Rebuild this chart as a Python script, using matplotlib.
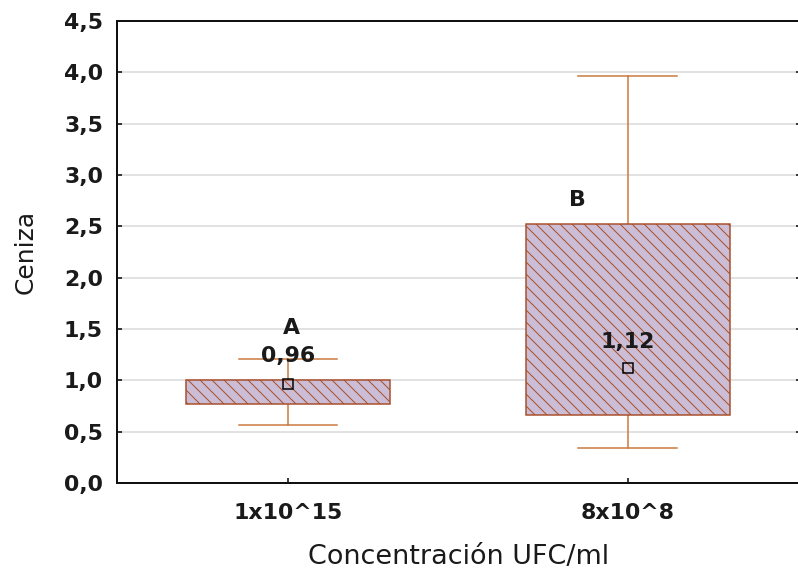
import matplotlib
matplotlib.use("Agg")
import matplotlib.pyplot as plt

categories = ["1x10^15", "8x10^8"]
q1 = [0.77, 0.664]
q3 = [1.0, 2.52]
whislo = [0.566, 0.34]
whishi = [1.21, 3.96]
means = [0.96, 1.12]
mean_labels = ["0,96", "1,12"]
group_letters = ["A", "B"]
yticks = [0.0, 0.5, 1.0, 1.5, 2.0, 2.5, 3.0, 3.5, 4.0, 4.5]
ytick_labels = ["0,0", "0,5", "1,0", "1,5", "2,0", "2,5", "3,0", "3,5", "4,0", "4,5"]

DPI = 72
fig = plt.figure(figsize=(798 / DPI, 586 / DPI), dpi=DPI)
ax = fig.add_axes([117 / 798, 1 - 483 / 586, 684 / 798, (483 - 21) / 586])

edge = "#a84e2a"
hatchc = "#d27040"
fill = "#cbbdd6"
whisk = "#c9783c"
plt.rcParams["hatch.linewidth"] = 1.0
plt.rcParams["hatch.color"] = hatchc

positions = list(range(len(categories)))
stats = []
for i in positions:
    stats.append(dict(med=means[i], q1=q1[i], q3=q3[i], whislo=whislo[i],
                      whishi=whishi[i], mean=means[i], fliers=[]))

bp = ax.bxp(stats, positions=positions, widths=0.6, capwidths=0.29,
            patch_artist=True, showmeans=True, showfliers=False,
            boxprops=dict(facecolor=fill, edgecolor=hatchc, linewidth=1.5, hatch="\\\\"),
            whiskerprops=dict(color=whisk, linewidth=1.5),
            capprops=dict(color=whisk, linewidth=1.5),
            medianprops=dict(linewidth=0, color="none"),
            meanprops=dict(marker="s", markersize=10, markerfacecolor="none",
                           markeredgecolor="black", markeredgewidth=1.5),
            zorder=3)
for b in bp["boxes"]:
    b.set_edgecolor(edge)
    b.set_zorder(3)
for ln in bp["whiskers"] + bp["caps"]:
    ln.set_zorder(2)
for ln in bp["means"]:
    ln.set_zorder(5)

# annotations
txt_kw = dict(ha="center", va="center", fontsize=22, fontweight="bold",
              color="#1a1a1a", zorder=6)
ax.text(0.01, 1.51, group_letters[0], **txt_kw)
ax.text(0.0, 1.235, mean_labels[0], **txt_kw)
ax.text(0.853, 2.76, group_letters[1], **txt_kw)
ax.text(1.0, 1.37, mean_labels[1], **txt_kw)

ax.set_xlim(-0.503, 1.51)
ax.set_ylim(0, 4.5)
ax.set_yticks(yticks)
ax.set_yticklabels(ytick_labels)
ax.set_xticks(positions)
ax.set_xticklabels(categories)
ax.yaxis.grid(True, color="#d9d9d9", linewidth=1.5, zorder=0)
ax.set_axisbelow(True)
ax.tick_params(axis="both", direction="in", length=5, width=1.5, colors="black",
               labelsize=22, labelcolor="#1a1a1a", right=True)
ax.tick_params(axis="y", pad=14)
ax.tick_params(axis="x", pad=20)
for lab in ax.get_xticklabels() + ax.get_yticklabels():
    lab.set_fontweight("bold")
for s in ax.spines.values():
    s.set_linewidth(2)
    s.set_color("#111111")

ax.set_xlabel("Concentración UFC/ml", fontsize=27, color="#1a1a1a")
ax.xaxis.set_label_coords(0.5, -0.132)
ax.set_ylabel("Ceniza", fontsize=25, color="#1a1a1a")
ax.yaxis.set_label_coords(-(117 - 38) / 684, 0.5)

fig.savefig("out.png", dpi=DPI)
